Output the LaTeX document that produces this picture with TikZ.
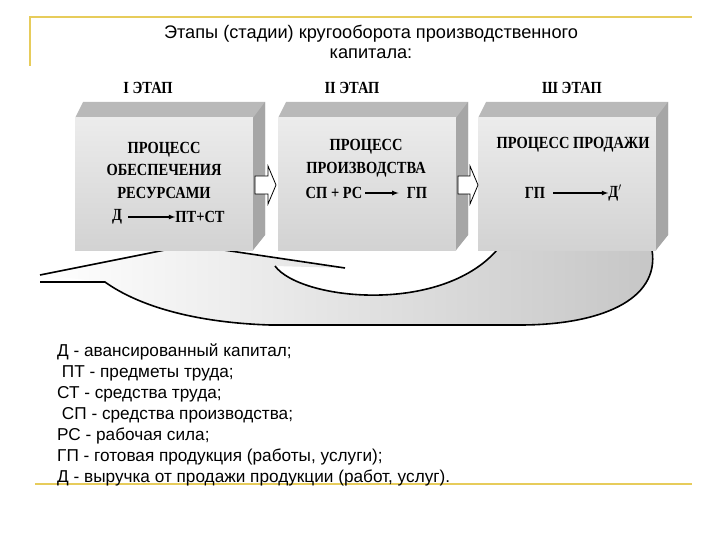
\documentclass[tikz,border=0pt]{standalone}
\usepackage{fontspec}
\setmainfont{Liberation Sans}
\newfontfamily\boxfont{Liberation Serif}
\begin{document}
\begin{tikzpicture}[x=1pt,y=-1pt,
  frame/.style={draw=yellow!50!brown!80, line width=1.5pt},
  stage/.style={font=\boxfont\bfseries\fontsize{17}{19}\selectfont, inner sep=0pt},
  btxt/.style={font=\boxfont\bfseries\fontsize{17}{22.5}\selectfont, align=center, inner sep=0pt},
  legend/.style={font=\fontsize{17.2}{18}\selectfont, anchor=west, inner sep=0pt},
  hollow/.style={draw=black, fill=white, line width=0.8pt}]
\useasboundingbox (0,0) rectangle (720,540);
\draw[frame] (30,66) -- (30,17) -- (692,17);
\draw[frame] (35,484) -- (692,484);
\node[font=\fontsize{18.2}{20}\selectfont, align=center] (title) at (371,42) {Этапы (стадии) кругооборота производственного\\капитала:};
% return arrow
\path[left color=white, right color=gray!45, shading angle=90] (40,275) -- (190,245) -- (345,268) -- (275,266)
  .. controls (300,300) and (440,315) .. (497,250) -- (652,250)
  .. controls (660,300) and (600,325) .. (520,325) -- (270,325)
  .. controls (180,322) and (130,300) .. (105,282) -- cycle;
\draw[line width=1.6pt] (40,275) -- (190,245) -- (345,268) (275,266)
  .. controls (300,300) and (440,315) .. (497,250) (652,250)
  .. controls (660,300) and (600,325) .. (520,325) -- (270,325)
  .. controls (180,322) and (130,300) .. (105,282) -- (40,282);
% boxes
\foreach \n/\x in {a/75,b/278,c/478}{
  \fill[gray!55] (\x+8,102) -- (\x+190,102) -- (\x+190,235) -- (\x+178,250) -- (\x+178,118) -- (\x,118) -- cycle;
  \shade[top color=gray!15, bottom color=gray!35] (\x,118) rectangle (\x+178,250);
  \fill[gray!70] (\x+178,118) -- (\x+190,102) -- (\x+190,235) -- (\x+178,250) -- cycle;
  \node (\n) at (\x+89,184) {};
}
\node[stage] (s1) at (148,88) {\scalebox{0.85}[1]{I ЭТАП}};
\node[stage] (s2) at (352,88) {\scalebox{0.85}[1]{II ЭТАП}};
\node[stage] (s3) at (572,88) {\scalebox{0.85}[1]{Ш ЭТАП}};
\node[btxt] (t1) at (164,170) {\scalebox{0.85}[1]{ПРОЦЕСС}\\\scalebox{0.85}[1]{ОБЕСПЕЧЕНИЯ}\\\scalebox{0.85}[1]{РЕСУРСАМИ}};
\node[stage] (d1) at (117,217) {\scalebox{0.85}[1]{Д}};
\node[stage] (p1) at (200,217) {\scalebox{0.85}[1]{ПТ+СТ}};
\draw[-latex, line width=1.2pt] (d1.east)++(6,0) -- (p1.west);
\node[btxt] (t2) at (366,158) {\scalebox{0.85}[1]{ПРОЦЕСС}\\\scalebox{0.85}[1]{ПРОИЗВОДСТВА}};
\node[stage] (d2) at (334,193) {\scalebox{0.85}[1]{СП + РС}};
\node[stage] (p2) at (417,193) {\scalebox{0.85}[1]{ГП}};
\draw[-latex, line width=1.2pt] (d2.east)++(3,0) -- ([xshift=-8pt]p2.west);
\node[btxt] (t3) at (573,145) {\scalebox{0.85}[1]{ПРОЦЕСС ПРОДАЖИ}};
\node[stage] (d3) at (535,193) {\scalebox{0.85}[1]{ГП}};
\node[stage] (p3) at (615,193) {\scalebox{0.85}[1]{Д$^{\prime}$}};
\draw[-latex, line width=1.2pt] (d3.east)++(8,0) -- (p3.west);
% hollow arrows
\draw[hollow] (255,176) -- (268,176) -- (268,166) -- (276,185) -- (268,204) -- (268,194) -- (255,194) -- cycle;
\draw[hollow] (458,176) -- (470,176) -- (470,166) -- (478,185) -- (470,204) -- (470,194) -- (458,194) -- cycle;
% legend
\node[legend] (l1) at (57,352) {Д - авансированный капитал;};
\node[legend] (l2) at (57,373) {\ ПТ - предметы труда;};
\node[legend] (l3) at (57,394) {СТ - средства труда;};
\node[legend] (l4) at (57,415) {\ СП - средства производства;};
\node[legend] (l5) at (57,436) {РС - рабочая сила;};
\node[legend] (l6) at (57,457) {ГП - готовая продукция (работы, услуги);};
\node[legend] (l7) at (57,478) {Д - выручка от продажи продукции (работ, услуг).};
\end{tikzpicture}
\end{document}
